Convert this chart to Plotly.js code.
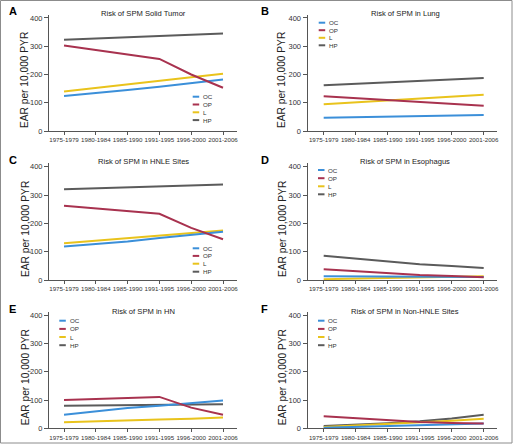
<!DOCTYPE html>
<html><head><meta charset="utf-8">
<script src="https://cdn.plot.ly/plotly-3.0.1.min.js"></script>
<style>html,body{margin:0;padding:0;background:#fff}#chart{width:514px;height:446px}</style>
</head><body><div id="chart"></div>
<script>
// ---------- data ----------
const periods = ['1975-1979','1980-1984','1985-1990','1991-1995','1996-2000','2001-2006'];
const seriesNames = ['OC','OP','L','HP'];
const seriesColors = ['#3b8fd9','#a8324f','#e9c31c','#5b5b5b'];
const yTicks = [0,100,200,300,400];
const panelLetters = ['A','B','C','D','E','F'];
const panelTitles = ['Risk of SPM Solid Tumor','Risk of SPM in Lung','Risk of SPM in HNLE Sites',
                     'Risk of SPM in Esophagus','Risk of SPM in HN','Risk of SPM in Non-HNLE Sites'];
const yTitle = 'EAR per 10,000 PYR';

// A: solid tumor
const solidOC = [124,134,145,157,170,182];
const solidOP = [303,287,272,255,200,153];
const solidL  = [140,152,164,177,190,203];
const solidHP = [323,327,332,337,341,345];
// B: lung
const lungOC = [47,49,51,53,55,57];
const lungOP = [123,116,109,102,96,89];
const lungL  = [95,102,108,114,121,128];
const lungHP = [162,167,172,177,182,188];
// C: HNLE sites
const hnleOC = [118,126,136,148,159,170];
const hnleOP = [262,253,244,234,184,144];
const hnleL  = [130,139,148,157,166,175];
const hnleHP = [320,323,326,330,333,337];
// D: esophagus
const esoOC = [13,13,12,12,12,11];
const esoOP = [38,31,24,18,14,10];
const esoL  = [3,5,7,9,11,13];
const esoHP = [86,76,66,56,49,42];
// E: HN
const hnOC = [48,60,72,80,90,98];
const hnOP = [100,103,107,111,73,48];
const hnL  = [21,25,28,31,34,38];
const hnHP = [80,81,82,83,84,85];
// F: non-HNLE sites
const nonOC = [2,5,8,11,14,17];
const nonOP = [43,36,28,22,19,17];
const nonL  = [5,10,16,20,27,34];
const nonHP = [8,12,18,25,35,48];

const panelData = [
  [solidOC, solidOP, solidL, solidHP],
  [lungOC, lungOP, lungL, lungHP],
  [hnleOC, hnleOP, hnleL, hnleHP],
  [esoOC, esoOP, esoL, esoHP],
  [hnOC, hnOP, hnL, hnHP],
  [nonOC, nonOP, nonL, nonHP]
];

// ---------- layout helpers (pixel -> paper) ----------
const W = 514, H = 446;
const px = x => x / W;
const py = y => 1 - y / H;

const colX = [[49, 237], [307.5, 497]];
const colRange = [[-0.472, 5.44], [-0.506, 5.416]];
const rowY = [[14.6, 131], [163.3, 280], [311.8, 428.3]]; // top, zero (pixels)
const letterPos = [[7, 11], [259, 11], [7, 160], [259, 160], [7, 309], [259, 309]];
const titleX = [143, 405];
const titleY = [14, 162, 311];
const yTitleX = [25, 282];
const legendKeyX = [192.7, 318.7, 192.7, 318, 59.3, 318];   // left end of key line
const legendTextX = [202, 327.5, 202, 327, 68.5, 327];
const legendRows = [
  [96.7, 104.5, 112.3, 120.1],
  [22.7, 30.2, 37.8, 45.3],
  [248.3, 255.9, 263.7, 271.7],
  [170, 178.2, 186.3, 194.3],
  [320.7, 328.9, 337, 345.2],
  [320.7, 328.9, 337, 345.2]
];

const sans = "'Liberation Sans', Arial, 'DejaVu Sans', sans-serif";

const traces = [];
const layout = {
  width: W, height: H,
  margin: {l: 0, r: 0, t: 0, b: 0},
  paper_bgcolor: '#ffffff', plot_bgcolor: '#ffffff',
  showlegend: false,
  annotations: [],
  shapes: [{
    type: 'rect', xref: 'paper', yref: 'paper',
    x0: px(0.5), x1: px(512), y0: py(443), y1: py(0.5),
    line: {color: '#8c8c8c', width: 1}
  }]
};

panelData.forEach((series, p) => {
  const col = p % 2, row = Math.floor(p / 2);
  const xa = p === 0 ? 'x' : 'x' + (p + 1);
  const ya = p === 0 ? 'y' : 'y' + (p + 1);
  const xKey = p === 0 ? 'xaxis' : 'xaxis' + (p + 1);
  const yKey = p === 0 ? 'yaxis' : 'yaxis' + (p + 1);

  // draw order: HP, L, OC, OP
  [3, 2, 0, 1].forEach(s => {
    traces.push({
      type: 'scatter', mode: 'lines',
      x: periods, y: series[s],
      name: seriesNames[s],
      xaxis: xa, yaxis: ya,
      line: {color: seriesColors[s], width: 2},
      hoverinfo: 'skip', showlegend: false
    });
  });

  layout[xKey] = {
    domain: [px(colX[col][0]), px(colX[col][1])],
    anchor: ya,
    type: 'category',
    categoryorder: 'array', categoryarray: periods,
    range: colRange[col],
    showgrid: false, zeroline: false,
    showline: true, linecolor: '#555', linewidth: 1,
    ticks: 'outside', ticklen: 3, tickwidth: 1, tickcolor: '#555',
    tickfont: {family: sans, size: 6.2, color: '#333'},
    tickangle: 0, fixedrange: true
  };
  layout[yKey] = {
    domain: [py(rowY[row][1]), py(rowY[row][0])],
    anchor: xa,
    range: [0, 412],
    tickvals: yTicks,
    ticktext: yTicks.map(String),
    showgrid: false, zeroline: false,
    showline: true, linecolor: '#555', linewidth: 1,
    ticks: 'outside', ticklen: 4, tickwidth: 1, tickcolor: '#555',
    tickfont: {family: sans, size: 7.5, color: '#333'},
    fixedrange: true
  };

  // panel letter
  layout.annotations.push({
    xref: 'paper', yref: 'paper', x: px(letterPos[p][0]), y: py(letterPos[p][1]),
    xanchor: 'left', yanchor: 'middle', showarrow: false,
    text: '<b>' + panelLetters[p] + '</b>',
    font: {family: sans, size: 11, color: '#000'}
  });
  // panel title
  layout.annotations.push({
    xref: 'paper', yref: 'paper', x: px(titleX[col]), y: py(titleY[row]),
    xanchor: 'center', yanchor: 'middle', showarrow: false,
    text: panelTitles[p],
    font: {family: sans, size: 7.6, color: '#222'}
  });
  // y-axis title
  layout.annotations.push({
    xref: 'paper', yref: 'paper', x: px(yTitleX[col]), y: py(rowY[row][1] - 51),
    xanchor: 'center', yanchor: 'middle', showarrow: false, textangle: -90,
    text: yTitle,
    font: {family: sans, size: 10.2, color: '#222'}
  });
  // legend (built from series names / colours): short key line + label
  seriesNames.forEach((nm, s) => {
    const yy = py(legendRows[p][s]);
    layout.shapes.push({
      type: 'line', xref: 'paper', yref: 'paper',
      x0: px(legendKeyX[p]), x1: px(legendKeyX[p] + 6.5), y0: yy, y1: yy,
      line: {color: seriesColors[s], width: 2}
    });
    layout.annotations.push({
      xref: 'paper', yref: 'paper', x: px(legendTextX[p]), y: yy,
      xanchor: 'left', yanchor: 'middle', showarrow: false, borderpad: 0,
      text: nm,
      font: {family: sans, size: 6.2, color: '#333'}
    });
  });
});

Plotly.newPlot('chart', traces, layout, {displayModeBar: false, staticPlot: true});
</script>
</body></html>
